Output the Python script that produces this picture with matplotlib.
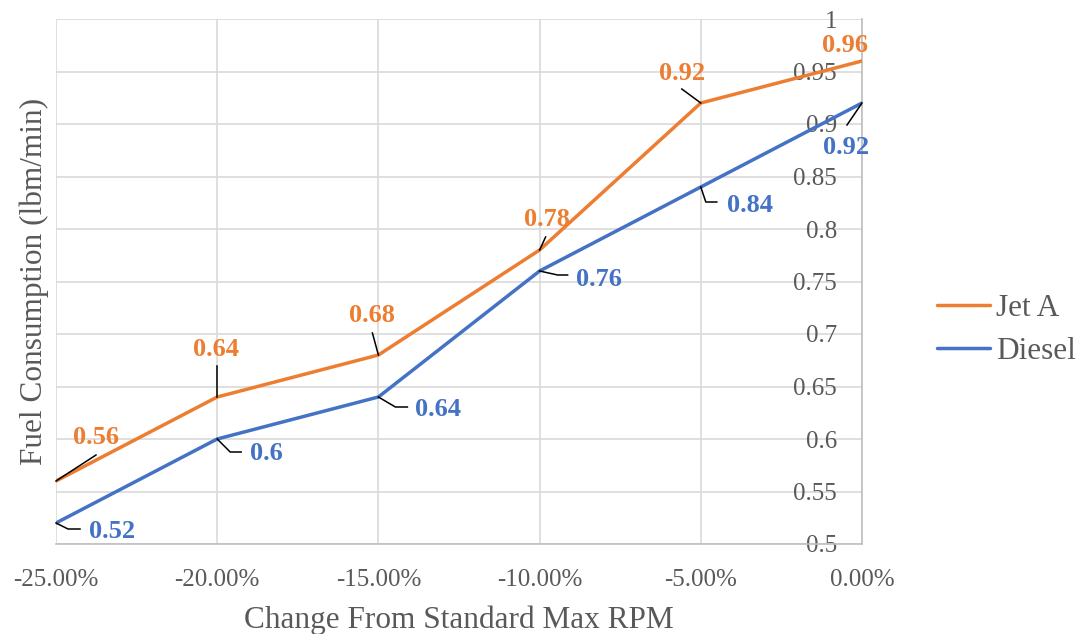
import matplotlib
matplotlib.use("Agg")
import matplotlib.pyplot as plt
from matplotlib.lines import Line2D
from matplotlib.transforms import IdentityTransform

# Data
rpm_change = [-0.25, -0.20, -0.15, -0.10, -0.05, 0.00]
jet_a = [0.56, 0.64, 0.68, 0.78, 0.92, 0.96]
diesel = [0.52, 0.60, 0.64, 0.76, 0.84, 0.92]
x_tick_labels = ["-25.00%", "-20.00%", "-15.00%", "-10.00%", "-5.00%", "0.00%"]
y_ticks = [0.5, 0.55, 0.6, 0.65, 0.7, 0.75, 0.8, 0.85, 0.9, 0.95, 1.0]
y_tick_labels = ["0.5", "0.55", "0.6", "0.65", "0.7", "0.75", "0.8", "0.85", "0.9", "0.95", "1"]
series_names = ["Jet A", "Diesel"]

ORANGE = "#ED7D31"
BLUE = "#4472C4"
GREY_TXT = "#595959"
GRID = "#D9D9D9"
AXIS = "#BFBFBF"

plt.rcParams["font.family"] = ["Liberation Serif", "DejaVu Serif"]

W, H = 1081, 634
fig = plt.figure(figsize=(W / 100, H / 100), dpi=100)
ax = fig.add_axes([56 / W, 90 / H, (862 - 56) / W, (544 - 19) / H])

ax.plot(rpm_change, jet_a, color=ORANGE, lw=2.5, label=series_names[0],
        solid_capstyle="round", zorder=3)
ax.plot(rpm_change, diesel, color=BLUE, lw=2.5, label=series_names[1],
        solid_capstyle="round", zorder=3)

ax.set_xlim(-0.25, 0.0)
ax.set_ylim(0.5, 1.0)
ax.set_xticks(rpm_change)
ax.set_xticklabels(x_tick_labels)
ax.set_yticks(y_ticks)
ax.set_yticklabels(y_tick_labels)

ax.grid(True, color=GRID, lw=1.2, zorder=0)
ax.set_axisbelow(True)
for side in ("left", "top"):
    ax.spines[side].set_visible(False)
ax.spines["bottom"].set_color(AXIS)
ax.spines["bottom"].set_linewidth(1.2)
ax.spines["right"].set_color(AXIS)
ax.spines["right"].set_linewidth(1.2)

# value axis sits at x = 0 with labels drawn just inside it
ax.yaxis.set_ticks_position("right")
ax.tick_params(axis="y", length=0, labelsize=18, labelcolor=GREY_TXT, pad=-18)
for lbl in ax.get_yticklabels():
    lbl.set_horizontalalignment("right")
ax.tick_params(axis="x", length=0, labelsize=18, labelcolor=GREY_TXT, pad=18)

ax.set_xlabel("Change From Standard Max RPM", fontsize=22.5, color=GREY_TXT)
ax.xaxis.set_label_coords(0.5, -0.118)
ax.set_ylabel("Fuel Consumption (lbm/min)", fontsize=22.5, color=GREY_TXT)
ax.yaxis.set_label_position("left")
ax.yaxis.label.set_verticalalignment("center")
ax.yaxis.set_label_coords(-0.027, 0.5)

leg = fig.legend(loc="center left", bbox_to_anchor=(937 / W, (H - 330) / H),
                 frameon=False, fontsize=22.5, handlelength=1.7,
                 handletextpad=0.2, labelspacing=0.45, borderpad=0,
                 borderaxespad=0)
for t in leg.get_texts():
    t.set_color(GREY_TXT)

# Data labels: label offset (px) and leader polyline offsets (px)
jet_label_style = [
    ((40, 43), [(0, 0), (40, 26)]),
    ((-1, 48), [(0, 0), (0, 31)]),
    ((-6, 39), [(0, 0), (-6, 22)]),
    ((7, 30), [(0, 0), (6, 13)]),
    ((-19, 30), [(0, 0), (-19, 14)]),
    ((-17, 15), None),
]
diesel_label_style = [
    ((56, -8), [(0, 0), (12, -6), (24, -6)]),
    ((49, -15), [(0, 0), (13, -13), (24, -13)]),
    ((60, -13), [(0, 0), (17, -10), (29, -10)]),
    ((59, -8), [(0, 0), (18, -4), (28, -4)]),
    ((49, -19), [(0, 0), (5, -15), (16, -15)]),
    ((-16, -45), [(0, 0), (-15, -22)]),
]


def add_labels(xs, ys, styles, color):
    for x, y, (off, leader) in zip(xs, ys, styles):
        ax.annotate(f"{y:g}", xy=(x, y), xytext=off, textcoords="offset pixels",
                    ha="center", va="center", fontsize=19, fontweight="bold",
                    color=color, zorder=5, annotation_clip=False)
        if leader:
            px, py = ax.transData.transform((x, y))
            lx = [px + dx for dx, dy in leader]
            ly = [py + dy for dx, dy in leader]
            fig.add_artist(Line2D(lx, ly, transform=IdentityTransform(),
                                  color="black", lw=1.1, zorder=6))


add_labels(rpm_change, jet_a, jet_label_style, ORANGE)
add_labels(rpm_change, diesel, diesel_label_style, BLUE)

fig.savefig("out.png", dpi=100)
